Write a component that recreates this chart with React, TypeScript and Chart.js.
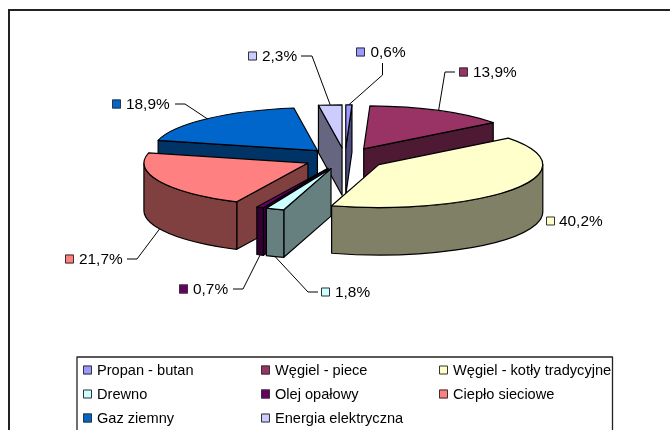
import React, { useEffect, useRef } from "react";
import { Chart, registerables } from "chart.js";

Chart.register(...registerables);

const categories = [
  "Propan - butan",
  "Węgiel - piece",
  "Węgiel - kotły tradycyjne",
  "Drewno",
  "Olej opałowy",
  "Ciepło sieciowe",
  "Gaz ziemny",
  "Energia elektryczna",
];
const shares = [0.6, 13.9, 40.2, 1.8, 0.7, 21.7, 18.9, 2.3];
const valueLabels = ["0,6%", "13,9%", "40,2%", "1,8%", "0,7%", "21,7%", "18,9%", "2,3%"];
const topColors = ["#9999FF", "#993366", "#FFFFCC", "#CCFFFF", "#660066", "#FF8080", "#0066CC", "#CCCCFF"];
const wallColors = ["#4D4D80", "#4D1933", "#808066", "#668080", "#330033", "#804040", "#003366", "#666680"];

// painter's order: rear slices first
const paintOrder = [7, 0, 1, 6, 5, 4, 3, 2];

// projection of the library's circular pie to the tilted ellipse
const CENTER_X = 345;
const CENTER_Y = 158.5;
const AXIS_X = 164;
const AXIS_Y = 43;
const DEPTH = 47.5;
const EXPLODE = 41;

const FONT = '"Liberation Sans", Arial, sans-serif';

// label placement per slice: swatch left, swatch centre y, text left, leader bend points
const labelLayout: { sx: number; sy: number; tx: number; bends: number[][] }[] = [
  { sx: 356, sy: 52, tx: 370.5, bends: [[382.5, 75], [382.5, 63]] },
  { sx: 459, sy: 72, tx: 473, bends: [[445, 72], [455, 72]] },
  { sx: 546, sy: 221, tx: 559, bends: [] },
  { sx: 321, sy: 292, tx: 335, bends: [[308, 292], [318, 292]] },
  { sx: 179, sy: 289, tx: 193, bends: [[243, 289], [233, 289]] },
  { sx: 65, sy: 259, tx: 79, bends: [[137, 259], [127, 259]] },
  { sx: 112, sy: 104, tx: 126, bends: [[185, 104], [175, 104]] },
  { sx: 248, sy: 56, tx: 262, bends: [[312, 56], [301, 56]] },
];

const legendColumns = [83, 261, 439];
const legendRows = [370, 394, 418];

const pie3d = {
  id: "pie3d",
  beforeDatasetsDraw(chart: any) {
    const ctx: CanvasRenderingContext2D = chart.ctx;
    const arcs: any[] = chart.getDatasetMeta(0).data;

    // outer frame (runs off the right and bottom of the picture)
    ctx.save();
    ctx.strokeStyle = "#222";
    ctx.lineWidth = 2;
    ctx.strokeRect(9, 10, 800, 600);
    ctx.restore();

    const R = arcs[0].outerRadius;
    const sx = AXIS_X / R;
    const sy = AXIS_Y / R;

    // the library's angles start at -PI/2 and run clockwise on screen
    const geom = (arc: any) => {
      const mid = (arc.startAngle + arc.endAngle) / 2;
      return {
        ax: CENTER_X + Math.cos(mid) * EXPLODE,
        ay: CENTER_Y + (Math.sin(mid) * EXPLODE * AXIS_Y) / AXIS_X,
        mid,
      };
    };
    const rim = (g: any, a: number, drop = 0): [number, number] => [
      g.ax + Math.cos(a) * AXIS_X,
      g.ay + Math.sin(a) * AXIS_Y + drop,
    ];

    const shape = (pts: [number, number][], fill: string) => {
      ctx.beginPath();
      pts.forEach((p, i) => (i ? ctx.lineTo(p[0], p[1]) : ctx.moveTo(p[0], p[1])));
      ctx.closePath();
      ctx.fillStyle = fill;
      ctx.fill();
      ctx.stroke();
    };

    ctx.save();
    ctx.strokeStyle = "#000";
    ctx.lineWidth = 1.2;
    ctx.lineJoin = "round";

    paintOrder.forEach((i) => {
      const arc = arcs[i];
      const g = geom(arc);
      const s = arc.startAngle;
      const e = arc.endAngle;
      const apex: [number, number] = [g.ax, g.ay];
      const apexLow: [number, number] = [g.ax, g.ay + DEPTH];
      const wall = wallColors[i];

      // radial cut walls, only those that face the viewer
      if (Math.cos(s) < 0) shape([apex, rim(g, s), rim(g, s, DEPTH), apexLow], wall);
      if (Math.cos(e) > 0) shape([apex, rim(g, e), rim(g, e, DEPTH), apexLow], wall);

      // outer rim wall, only where it faces the viewer
      const from = Math.max(s, 0);
      const to = Math.min(e, Math.PI);
      if (to > from) {
        ctx.beginPath();
        ctx.ellipse(g.ax, g.ay, AXIS_X, AXIS_Y, 0, from, to);
        ctx.ellipse(g.ax, g.ay + DEPTH, AXIS_X, AXIS_Y, 0, to, from, true);
        ctx.closePath();
        ctx.fillStyle = wall;
        ctx.fill();
        ctx.stroke();
      }

      // top face: the library's own arc element, mapped on to the ellipse
      ctx.save();
      ctx.translate(g.ax, g.ay);
      ctx.scale(sx, sy);
      ctx.translate(-arc.x, -arc.y);
      arc.draw(ctx);
      ctx.restore();

      ctx.beginPath();
      ctx.moveTo(g.ax, g.ay);
      ctx.ellipse(g.ax, g.ay, AXIS_X, AXIS_Y, 0, s, e);
      ctx.closePath();
      ctx.stroke();
    });

    // data labels
    ctx.lineWidth = 1;
    ctx.font = `15.4px ${FONT}`;
    ctx.textBaseline = "middle";
    ctx.textAlign = "left";
    arcs.forEach((arc, i) => {
      const g = geom(arc);
      const lay = labelLayout[i];
      if (lay.bends.length) {
        const frontFacing = Math.sin(g.mid) > 0;
        const a = rim(g, g.mid, frontFacing ? DEPTH : 0);
        ctx.beginPath();
        ctx.moveTo(a[0], a[1]);
        lay.bends.forEach((p) => ctx.lineTo(p[0], p[1]));
        ctx.strokeStyle = "#000";
        ctx.stroke();
      }
      ctx.fillStyle = topColors[i];
      ctx.strokeStyle = "#333";
      ctx.fillRect(lay.sx, lay.sy - 4.5, 9, 9);
      ctx.strokeRect(lay.sx + 0.5, lay.sy - 4, 8, 8);
      ctx.fillStyle = "#000";
      ctx.fillText(valueLabels[i], lay.tx, lay.sy + 0.5);
    });

    // legend
    ctx.strokeStyle = "#222";
    ctx.lineWidth = 1.3;
    ctx.strokeRect(77, 357, 535.5, 90);
    ctx.lineWidth = 1;
    ctx.font = `14.6px ${FONT}`;
    categories.forEach((name, i) => {
      const x = legendColumns[i % 3];
      const y = legendRows[Math.floor(i / 3)];
      ctx.fillStyle = topColors[i];
      ctx.strokeStyle = "#333";
      ctx.fillRect(x, y - 4.5, 9, 9);
      ctx.strokeRect(x + 0.5, y - 4, 8, 8);
      ctx.fillStyle = "#000";
      ctx.fillText(name, x + 14, y + 1);
    });
    ctx.restore();

    return false;
  },
};

export default function App() {
  const ref = useRef<HTMLCanvasElement>(null);
  useEffect(() => {
    document.body.style.margin = "0";
    const chart = new Chart(ref.current!, {
      type: "pie",
      data: {
        labels: categories,
        datasets: [
          {
            data: shares,
            backgroundColor: topColors,
            borderWidth: 0,
          },
        ],
      },
      options: {
        responsive: false,
        animation: false,
        layout: { padding: 0 },
        plugins: { legend: { display: false }, tooltip: { enabled: false } },
      },
      plugins: [pie3d],
    });
    return () => chart.destroy();
  }, []);
  return <canvas ref={ref} width={670} height={430} style={{ display: "block", background: "#fff" }} />;
}
